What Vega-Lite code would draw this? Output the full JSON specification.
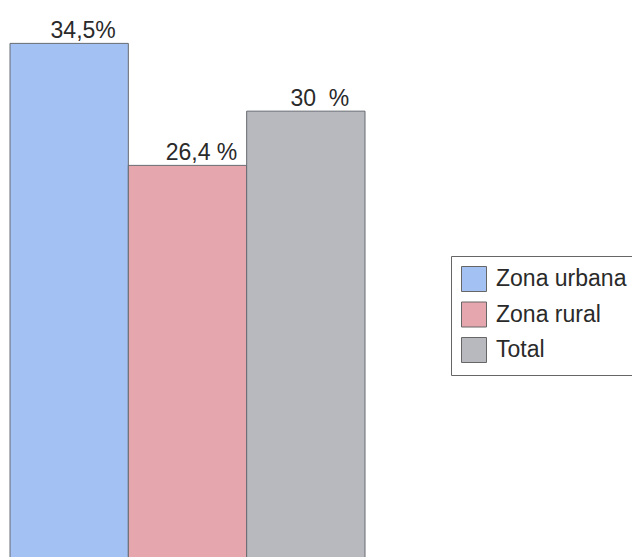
{
  "$schema": "https://vega.github.io/schema/vega-lite/v6.json",
  "width": 632,
  "height": 563,
  "autosize": {"type": "none"},
  "padding": 0,
  "background": "white",
  "config": {"view": {"stroke": null}},
  "data": {
    "values": [
      {"zona": "Zona urbana", "pct": 34.5, "label": "34,5%"},
      {"zona": "Zona rural", "pct": 26.4, "label": "26,4 %"},
      {"zona": "Total", "pct": 30, "label": "30\u00a0\u00a0%"}
    ]
  },
  "encoding": {
    "x": {
      "field": "zona",
      "type": "nominal",
      "sort": null,
      "axis": null,
      "scale": {"range": [10, 365], "paddingInner": 0, "paddingOuter": 0}
    },
    "y": {
      "field": "pct",
      "type": "quantitative",
      "axis": null,
      "scale": {"domain": [0, 37.38], "nice": false, "zero": true}
    }
  },
  "layer": [
    {
      "mark": {"type": "bar", "stroke": "#666a70", "strokeWidth": 1},
      "encoding": {
        "color": {
          "field": "zona",
          "type": "nominal",
          "scale": {
            "domain": ["Zona urbana", "Zona rural", "Total"],
            "range": ["#a3c1f2", "#e6a6ae", "#b7b9be"]
          },
          "legend": {
            "orient": "none",
            "legendX": 451,
            "legendY": 256,
            "title": null,
            "symbolType": "square",
            "symbolSize": 625,
            "symbolStrokeColor": "#666666",
            "symbolStrokeWidth": 1,
            "symbolOpacity": 1,
            "labelFontSize": 23,
            "labelFont": "Liberation Sans",
            "labelColor": "#2a2a2a",
            "labelOffset": 9,
            "labelLimit": 400,
            "rowPadding": 5.5,
            "padding": 10,
            "strokeColor": "#666666",
            "fillColor": "white",
            "cornerRadius": 0
          }
        }
      }
    },
    {
      "mark": {
        "type": "text",
        "baseline": "alphabetic",
        "dy": -5,
        "dx": 14,
        "fontSize": 23,
        "font": "Liberation Sans",
        "color": "#2a2a2a"
      },
      "encoding": {"text": {"field": "label"}}
    }
  ]
}
